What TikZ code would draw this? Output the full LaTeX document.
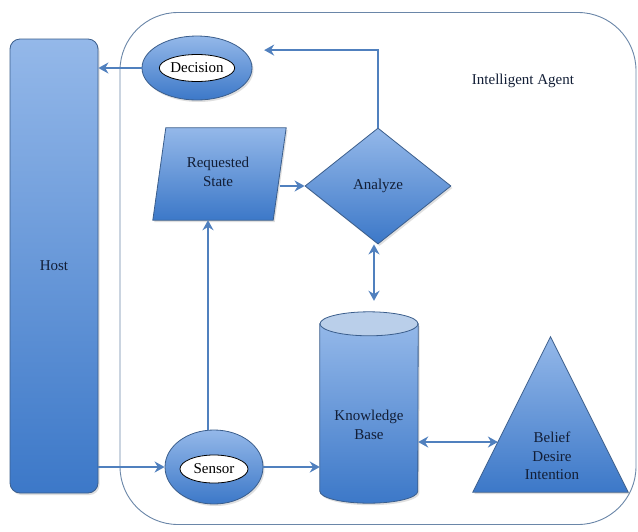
\documentclass[tikz,border=0pt]{standalone}
\usepackage{fontspec}
\setmainfont{Liberation Serif}
\usetikzlibrary{shapes.geometric,arrows.meta,calc,shadows}
\definecolor{edgec}{HTML}{3B5E8C}
\definecolor{arr}{HTML}{5080BE}
\definecolor{txt}{HTML}{121E36}
\definecolor{ctr}{HTML}{6A86A8}
\definecolor{toplid}{HTML}{BACFEA}
\begin{document}
\begin{tikzpicture}[x=1pt,y=-1pt,
  blueshade/.style={top color={rgb,255:red,148;green,184;blue,233}, bottom color={rgb,255:red,60;green,120;blue,200}, draw=edgec, line width=0.8pt,
     drop shadow={opacity=0.25, shadow xshift=1.5pt, shadow yshift=-2pt}},
  lbl/.style={text=txt, font=\fontsize{15}{18.5}\selectfont, align=center},
  conn/.style={draw=arr, line width=2.4pt, -{Stealth[length=10pt,width=11pt]}},
  dconn/.style={draw=arr, line width=2.4pt, {Stealth[length=10pt,width=11pt]}-{Stealth[length=10pt,width=11pt]}},
  innerell/.style={ellipse, fill=white, draw=black, line width=0.8pt, inner sep=0pt, text=black, font=\fontsize{15}{18}\selectfont}
]
\useasboundingbox (0,0) rectangle (638,531);
\fill[white] (0,0) rectangle (638,531);

% container
\node[draw=ctr, line width=0.9pt, rounded corners=58pt, minimum width=516, minimum height=512, inner sep=0pt] (agent) at (378,268.5) {};
\node[lbl] (agentt) at (523,81) {Intelligent Agent};

% host
\node[blueshade, rounded corners=10pt, minimum width=88, minimum height=454, inner sep=0pt, lbl] (host) at (54,266) {Host};

% decision
\node[ellipse, blueshade, minimum width=110, minimum height=64, inner sep=0pt] (dec) at (197,68) {};
\node[innerell, minimum width=75, minimum height=27] (dect) at (dec) {Decision};

% sensor
\node[ellipse, blueshade, minimum width=98, minimum height=74, inner sep=0pt] (sen) at (214,467) {};
\node[innerell, minimum width=68, minimum height=28] (sent) at (214,469) {Sensor};

% requested state (parallelogram)
\node[minimum width=133, minimum height=92, inner sep=0pt] (rs) at (219.5,174) {};
\path[blueshade] (rs.south west) -- ($(rs.north west)+(13,0)$) -- (rs.north east) -- ($(rs.south east)+(-13,0)$) -- cycle;
\node[lbl] (rst) at (218,172) {Requested\\State};

% analyze
\node[diamond, blueshade, minimum width=146, minimum height=116, inner sep=0pt, lbl] (an) at (378,186) {Analyze};

% knowledge base (cylinder)
\node[minimum width=98, minimum height=191, inner sep=0pt] (kb) at (369,407.5) {};
\path[blueshade] ($(kb.north west)+(0,12)$) -- ($(kb.south west)+(0,-12)$) arc[start angle=180, end angle=0, x radius=49, y radius=12] -- ($(kb.north east)+(0,12)$) -- cycle;
\path[fill=toplid, draw=edgec, line width=0.8pt] ($(kb.north)+(0,12)$) ellipse[x radius=49, y radius=12];
\node[lbl] (kbt) at (369,425) {Knowledge\\Base};

% belief desire intention (triangle)
\node[minimum width=155, minimum height=155, inner sep=0pt] (bdi) at (550.5,414.5) {};
\path[blueshade] (bdi.north) -- (bdi.south east) -- (bdi.south west) -- cycle;
\node[lbl] (bdit) at (552,456) {Belief\\Desire\\Intention};
\coordinate (bdiw) at ($(bdi.north)!0.677!(bdi.south west)$);

% connectors
\draw[conn] (dec.west) -- (dec.west -| host.east);
\draw[conn] (an.north) |- ([shift={(28,5)}]dec.north east);
\draw[conn] ([xshift=-6pt]rs.east |- an.west) -- (an.west);
\draw[dconn, shorten >=11pt] ([xshift=-4pt]an.south) -- ([xshift=-4pt]an.south |- kb.north);
\draw[dconn] (kb.east |- bdiw) -- (bdiw);
\draw[conn] (sen.west -| host.east) -- (sen.west);
\draw[conn] (sen.east) -- (sen.east -| kb.west);
\draw[conn] ([xshift=-6pt]sen.north) -- ([xshift=-6pt]sen.north |- rs.south);
\end{tikzpicture}
\end{document}
